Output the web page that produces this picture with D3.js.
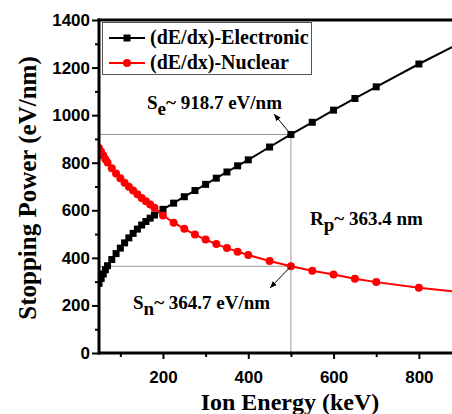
<!DOCTYPE html>
<meta charset="utf-8">
<style>
  body { margin: 0; background: #fff; }
  .tick text { font-family: "Liberation Sans", Arial, sans-serif; font-weight: bold; font-size: 17px; }
  .lbl { font-family: "Liberation Serif", "Times New Roman", serif; font-weight: bold; }
</style>
<script src="https://d3js.org/d3.v7.min.js"></script>
<div id="chart"></div>
<script>
// SRIM-like energies (keV) and stopping powers (eV/nm)
var energy     = [50, 55, 60, 65, 70, 80, 90, 100, 110, 120, 130, 140, 150, 160, 170, 180, 200, 225, 250, 275, 300, 325, 350, 375, 400, 450, 500, 550, 600, 650, 700, 800, 900];
var electronic = [293, 313, 332, 350, 367, 393, 418, 441, 463, 484, 503, 521, 538, 553, 567, 580, 604, 630, 657, 683, 709, 735, 761, 787, 812, 866, 918.7, 970, 1021, 1070, 1119, 1215, 1306];
var nuclear    = [862, 846, 830, 815, 801, 777, 755, 735, 716, 699, 683, 667, 652, 638, 624, 611, 578, 548, 522, 498, 477, 458, 441, 426, 412, 387, 364.7, 346, 330, 312, 298, 274, 256];
var xTicks = [200, 400, 600, 800];
var yTicks = [0, 200, 400, 600, 800, 1000, 1200, 1400];

var W = 452, H = 414;
var svg = d3.select("#chart").append("svg").attr("width", W).attr("height", H);

var x = d3.scaleLinear().domain([50, 880]).range([99, 453]);
var y = d3.scaleLinear().domain([0, 1400]).range([353, 20]);

var defs = svg.append("defs");
defs.append("clipPath").attr("id", "clip")
  .append("rect").attr("x", 99).attr("y", 0).attr("width", W).attr("height", 353);
defs.append("marker")
    .attr("id", "arrow")
    .attr("viewBox", "0 -5 10 10")
    .attr("refX", 10).attr("refY", 0)
    .attr("orient", "auto")
    .attr("markerWidth", 7).attr("markerHeight", 7)
    .attr("markerUnits", "userSpaceOnUse")
  .append("path").attr("d", "M0,-4L10,0L0,4Z").attr("fill", "#000");

// reference lines
var ref = svg.append("g").attr("stroke", "#999").attr("stroke-width", 1).attr("fill", "none");
ref.append("line").attr("x1", x(50)).attr("x2", x(500)).attr("y1", y(918.7)).attr("y2", y(918.7));
ref.append("line").attr("x1", x(50)).attr("x2", x(500)).attr("y1", y(364.7)).attr("y2", y(364.7));
ref.append("line").attr("x1", x(500)).attr("x2", x(500)).attr("y1", y(918.7)).attr("y2", y(0));

// series
var plot = svg.append("g").attr("clip-path", "url(#clip)");
var eData = energy.map(function(e, i) { return [e, electronic[i]]; });
var nData = energy.map(function(e, i) { return [e, nuclear[i]]; });
var line = d3.line().x(function(d) { return x(d[0]); }).y(function(d) { return y(d[1]); });

plot.append("path").datum(eData).attr("d", line).attr("fill", "none").attr("stroke", "#000").attr("stroke-width", 2);
plot.selectAll(".sq").data(eData).enter().append("rect")
  .attr("x", function(d) { return x(d[0]) - 3.5; })
  .attr("y", function(d) { return y(d[1]) - 3.5; })
  .attr("width", 7).attr("height", 7).attr("fill", "#000");

plot.append("path").datum(nData).attr("d", line).attr("fill", "none").attr("stroke", "#f00").attr("stroke-width", 2);
plot.selectAll(".dot").data(nData).enter().append("circle")
  .attr("cx", function(d) { return x(d[0]); })
  .attr("cy", function(d) { return y(d[1]); })
  .attr("r", 4).attr("fill", "#f00");

// axes
svg.append("g").attr("transform", "translate(0,353)")
  .call(d3.axisBottom(x).tickValues(xTicks).tickFormat(d3.format("d")).tickSize(6).tickPadding(12));
svg.append("g").attr("transform", "translate(0,353)")
  .call(d3.axisBottom(x).tickValues([100, 300, 500, 700]).tickSize(4).tickFormat(""));
svg.append("g").attr("transform", "translate(99,0)")
  .call(d3.axisLeft(y).tickValues(yTicks).tickFormat(d3.format("d")).tickSize(7).tickPadding(2));
svg.append("g").attr("transform", "translate(99,0)")
  .call(d3.axisLeft(y).tickValues([100, 300, 500, 700, 900, 1100, 1300]).tickSize(4).tickFormat(""));
svg.selectAll(".domain").remove();
svg.selectAll(".tick line").attr("stroke", "#000").attr("stroke-width", 2);
svg.selectAll(".tick text").attr("fill", "#000");

svg.append("line").attr("x1", 99).attr("x2", W).attr("y1", 353).attr("y2", 353).attr("stroke", "#000").attr("stroke-width", 3);
svg.append("line").attr("x1", 99).attr("x2", 99).attr("y1", 18.5).attr("y2", 354.5).attr("stroke", "#000").attr("stroke-width", 3);
svg.append("line").attr("x1", 97.5).attr("x2", W).attr("y1", 20).attr("y2", 20).attr("stroke", "#000").attr("stroke-width", 3);

// axis titles
svg.append("text").attr("class", "lbl")
  .attr("transform", "translate(36,188)rotate(-90)")
  .attr("text-anchor", "middle").style("font-size", "25px")
  .text("Stopping Power (eV/nm)");
svg.append("text").attr("class", "lbl")
  .attr("x", 290).attr("y", 410)
  .attr("text-anchor", "middle").style("font-size", "24px")
  .text("Ion Energy (keV)");

// legend
var lg = svg.append("g");
lg.append("rect").attr("x", 102.5).attr("y", 22.5).attr("width", 209).attr("height", 52)
  .attr("fill", "#fff").attr("stroke", "#555").attr("stroke-width", 1);
var items = [{name: "(dE/dx)-Electronic", color: "#000", shape: "sq"},
             {name: "(dE/dx)-Nuclear", color: "#f00", shape: "dot"}];
items.forEach(function(it, i) {
  var yy = 38 + i * 25;
  lg.append("line").attr("x1", 109).attr("x2", 145).attr("y1", yy).attr("y2", yy)
    .attr("stroke", it.color).attr("stroke-width", 2);
  if (it.shape === "sq") {
    lg.append("rect").attr("x", 123.5).attr("y", yy - 3.5).attr("width", 7).attr("height", 7).attr("fill", it.color);
  } else {
    lg.append("circle").attr("cx", 127).attr("cy", yy).attr("r", 4).attr("fill", it.color);
  }
  lg.append("text").attr("class", "lbl").attr("x", 150).attr("y", yy + 6)
    .style("font-size", "20px").text(it.name);
});

// annotations
function subText(xp, yp, main, sub, rest, size) {
  var t = svg.append("text").attr("class", "lbl").attr("x", xp).attr("y", yp).style("font-size", size + "px");
  t.append("tspan").text(main);
  t.append("tspan").attr("dy", 6).text(sub);
  t.append("tspan").attr("dy", -6).text(rest);
}
subText(147, 109, "S", "e", "~ 918.7 eV/nm", 19);
subText(133, 309, "S", "n", "~ 364.7 eV/nm", 19);
subText(310, 225, "R", "p", "~ 363.4 nm", 19);

svg.append("line").attr("x1", x(500)).attr("y1", y(918.7)).attr("x2", 274).attr("y2", 114)
  .attr("stroke", "#000").attr("stroke-width", 1).attr("marker-end", "url(#arrow)");
svg.append("line").attr("x1", x(500)).attr("y1", y(364.7)).attr("x2", 270).attr("y2", 288)
  .attr("stroke", "#000").attr("stroke-width", 1).attr("marker-end", "url(#arrow)");
</script>
